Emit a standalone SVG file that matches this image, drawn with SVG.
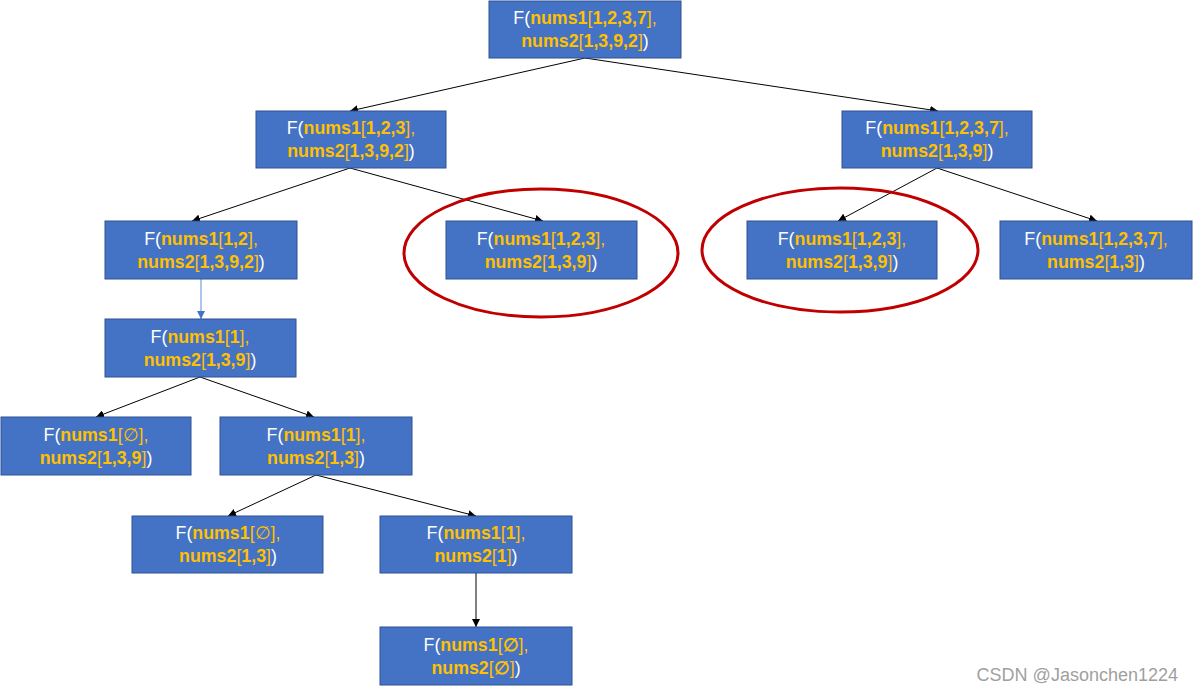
<svg xmlns="http://www.w3.org/2000/svg" width="1193" height="691" viewBox="0 0 1193 691">
<defs>
<style>
.box{fill:#4472C4;stroke:#2F528F;stroke-width:1}
.t{font-family:"Liberation Sans","Noto Sans",sans-serif;font-size:17.8px;text-anchor:middle;fill:#FFFFFF}
.y{fill:#FFC000;font-weight:bold}
.yn{fill:#FFC000;font-weight:normal}
.e{stroke:#000;stroke-width:1;fill:none;marker-end:url(#ah)}
.eb{stroke:#5B8BD8;stroke-width:1;fill:none;marker-end:url(#ahb)}
.ring{fill:none;stroke:#C00000;stroke-width:3}
</style>
<marker id="ah" viewBox="0 0 10 10" refX="10" refY="5" markerWidth="8" markerHeight="8" orient="auto" markerUnits="userSpaceOnUse"><path d="M0,0L10,5L0,10z" fill="#000"/></marker>
<marker id="ahb" viewBox="0 0 10 10" refX="10" refY="5" markerWidth="8" markerHeight="8" orient="auto" markerUnits="userSpaceOnUse"><path d="M0,0L10,5L0,10z" fill="#4472C4"/></marker>
</defs>
<rect width="1193" height="691" fill="#FFFFFF"/>
<g id="connectors">
<line class="e" x1="585" y1="58" x2="350" y2="111"/>
<line class="e" x1="585" y1="58" x2="938" y2="111"/>
<line class="e" x1="350" y1="168" x2="192" y2="221"/>
<line class="e" x1="350" y1="168" x2="543" y2="221"/>
<line class="e" x1="937" y1="168" x2="838" y2="221"/>
<line class="e" x1="937" y1="168" x2="1097" y2="221"/>
<line class="eb" x1="201" y1="279" x2="201" y2="319"/>
<line class="e" x1="200" y1="377" x2="96" y2="417"/>
<line class="e" x1="200" y1="377" x2="314" y2="417"/>
<line class="e" x1="316" y1="475" x2="228" y2="516"/>
<line class="e" x1="316" y1="475" x2="476" y2="516"/>
<line class="e" x1="476" y1="573" x2="476" y2="627"/>
</g>
<g id="n1"><rect class="box" x="489" y="1" width="192" height="57"/>
<text class="t" x="585" y="24">F(<tspan class="y">nums1</tspan><tspan class="yn">[</tspan><tspan class="y">1,2,3,7</tspan><tspan class="yn">],</tspan></text>
<text class="t" x="585" y="47"><tspan class="y">nums2</tspan><tspan class="yn">[</tspan><tspan class="y">1,3,9,2</tspan><tspan class="yn">]</tspan>)</text></g>
<g id="n2"><rect class="box" x="256" y="111" width="190" height="57"/>
<text class="t" x="351" y="134">F(<tspan class="y">nums1</tspan><tspan class="yn">[</tspan><tspan class="y">1,2,3</tspan><tspan class="yn">],</tspan></text>
<text class="t" x="351" y="157"><tspan class="y">nums2</tspan><tspan class="yn">[</tspan><tspan class="y">1,3,9,2</tspan><tspan class="yn">]</tspan>)</text></g>
<g id="n3"><rect class="box" x="842" y="111" width="190" height="57"/>
<text class="t" x="937" y="134">F(<tspan class="y">nums1</tspan><tspan class="yn">[</tspan><tspan class="y">1,2,3,7</tspan><tspan class="yn">],</tspan></text>
<text class="t" x="937" y="157"><tspan class="y">nums2</tspan><tspan class="yn">[</tspan><tspan class="y">1,3,9</tspan><tspan class="yn">]</tspan>)</text></g>
<g id="n4"><rect class="box" x="105" y="221" width="192" height="58"/>
<text class="t" x="201" y="245">F(<tspan class="y">nums1</tspan><tspan class="yn">[</tspan><tspan class="y">1,2</tspan><tspan class="yn">],</tspan></text>
<text class="t" x="201" y="268"><tspan class="y">nums2</tspan><tspan class="yn">[</tspan><tspan class="y">1,3,9,2</tspan><tspan class="yn">]</tspan>)</text></g>
<g id="n5"><rect class="box" x="446" y="221" width="191" height="58"/>
<text class="t" x="541" y="245">F(<tspan class="y">nums1</tspan><tspan class="yn">[</tspan><tspan class="y">1,2,3</tspan><tspan class="yn">],</tspan></text>
<text class="t" x="541" y="268"><tspan class="y">nums2</tspan><tspan class="yn">[</tspan><tspan class="y">1,3,9</tspan><tspan class="yn">]</tspan>)</text></g>
<g id="n6"><rect class="box" x="747" y="221" width="190" height="58"/>
<text class="t" x="842" y="245">F(<tspan class="y">nums1</tspan><tspan class="yn">[</tspan><tspan class="y">1,2,3</tspan><tspan class="yn">],</tspan></text>
<text class="t" x="842" y="268"><tspan class="y">nums2</tspan><tspan class="yn">[</tspan><tspan class="y">1,3,9</tspan><tspan class="yn">]</tspan>)</text></g>
<g id="n7"><rect class="box" x="1000" y="221" width="192" height="58"/>
<text class="t" x="1096" y="245">F(<tspan class="y">nums1</tspan><tspan class="yn">[</tspan><tspan class="y">1,2,3,7</tspan><tspan class="yn">],</tspan></text>
<text class="t" x="1096" y="268"><tspan class="y">nums2</tspan><tspan class="yn">[</tspan><tspan class="y">1,3</tspan><tspan class="yn">]</tspan>)</text></g>
<g id="n8"><rect class="box" x="105" y="319" width="191" height="58"/>
<text class="t" x="200" y="343">F(<tspan class="y">nums1</tspan><tspan class="yn">[</tspan><tspan class="y">1</tspan><tspan class="yn">],</tspan></text>
<text class="t" x="200" y="366"><tspan class="y">nums2</tspan><tspan class="yn">[</tspan><tspan class="y">1,3,9</tspan><tspan class="yn">]</tspan>)</text></g>
<g id="n9"><rect class="box" x="1" y="417" width="190" height="58"/>
<text class="t" x="96" y="441">F(<tspan class="y">nums1</tspan><tspan class="yn">[∅],</tspan></text>
<text class="t" x="96" y="464"><tspan class="y">nums2</tspan><tspan class="yn">[</tspan><tspan class="y">1,3,9</tspan><tspan class="yn">]</tspan>)</text></g>
<g id="n10"><rect class="box" x="220" y="417" width="192" height="58"/>
<text class="t" x="316" y="441">F(<tspan class="y">nums1</tspan><tspan class="yn">[</tspan><tspan class="y">1</tspan><tspan class="yn">],</tspan></text>
<text class="t" x="316" y="464"><tspan class="y">nums2</tspan><tspan class="yn">[</tspan><tspan class="y">1,3</tspan><tspan class="yn">]</tspan>)</text></g>
<g id="n11"><rect class="box" x="132" y="516" width="191" height="57"/>
<text class="t" x="228" y="539">F(<tspan class="y">nums1</tspan><tspan class="yn">[∅],</tspan></text>
<text class="t" x="228" y="562"><tspan class="y">nums2</tspan><tspan class="yn">[</tspan><tspan class="y">1,3</tspan><tspan class="yn">]</tspan>)</text></g>
<g id="n12"><rect class="box" x="380" y="516" width="192" height="57"/>
<text class="t" x="476" y="539">F(<tspan class="y">nums1</tspan><tspan class="yn">[</tspan><tspan class="y">1</tspan><tspan class="yn">],</tspan></text>
<text class="t" x="476" y="562"><tspan class="y">nums2</tspan><tspan class="yn">[</tspan><tspan class="y">1</tspan><tspan class="yn">]</tspan>)</text></g>
<g id="n13"><rect class="box" x="380" y="627" width="192" height="58"/>
<text class="t" x="476" y="651">F(<tspan class="y">nums1</tspan><tspan class="yn">[</tspan><tspan class="y">∅</tspan><tspan class="yn">],</tspan></text>
<text class="t" x="476" y="674"><tspan class="y">nums2</tspan><tspan class="yn">[</tspan><tspan class="y">∅</tspan><tspan class="yn">]</tspan>)</text></g>
<g id="highlights">
<ellipse class="ring" cx="541" cy="253" rx="137" ry="64"/>
<ellipse class="ring" cx="840" cy="250" rx="138" ry="62"/>
</g>
<text x="1178" y="681" font-family="'Liberation Sans','Noto Sans',sans-serif" font-size="18" fill="#A0A0A0" text-anchor="end">CSDN @Jasonchen1224</text>
</svg>
